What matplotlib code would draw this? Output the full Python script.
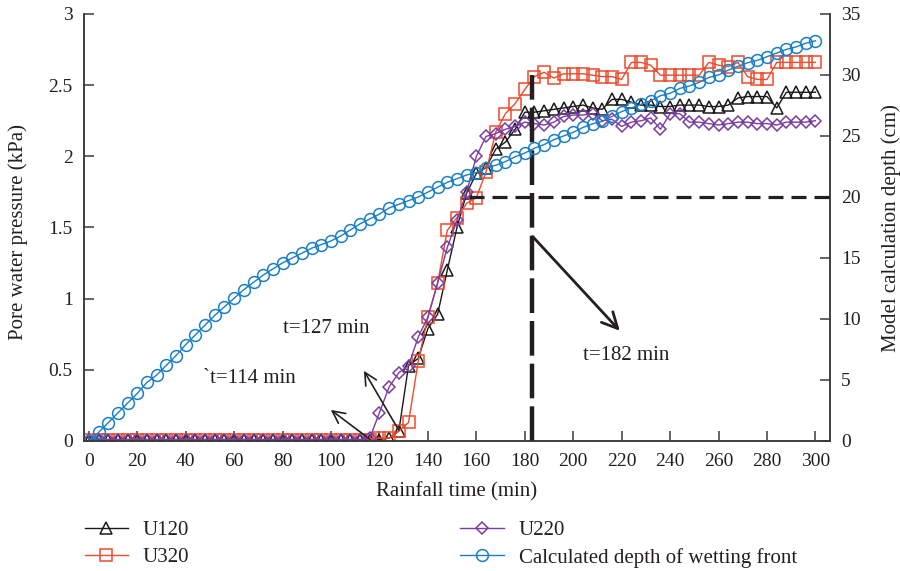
import numpy as np
import matplotlib
matplotlib.use("Agg")
import matplotlib.pyplot as plt

plt.rcParams["font.family"] = ["Liberation Serif", "DejaVu Serif"]

TEXT = "#231f20"
SPINE = "#3a3a3a"

# rainfall time, one reading every 4 min
tiempo = np.arange(0, 301, 4)

u120 = [0.01] * 30 + [
    0.01, 0.02, 0.07, 0.53, 0.58, 0.79, 0.89, 1.20, 1.50, 1.74, 1.88, 1.92, 2.05, 2.10, 2.19, 2.31,
    2.31, 2.32, 2.33, 2.34, 2.35, 2.36, 2.34, 2.33, 2.40, 2.40,
    2.38, 2.36, 2.36, 2.35, 2.35, 2.36, 2.36, 2.36, 2.35, 2.35,
    2.36, 2.41, 2.42, 2.42, 2.42, 2.34, 2.45, 2.45, 2.45, 2.45,
]
u320 = [0.01] * 30 + [
    0.02, 0.02, 0.07, 0.13, 0.56, 0.87, 1.11, 1.48, 1.57, 1.67, 1.71, 1.89, 2.17, 2.30, 2.37, 2.47,
    2.56, 2.59, 2.55, 2.58, 2.58, 2.58, 2.57, 2.56, 2.56, 2.54,
    2.66, 2.66, 2.64, 2.57, 2.57, 2.57, 2.57, 2.57, 2.66, 2.64,
    2.63, 2.66, 2.56, 2.54, 2.54, 2.66, 2.66, 2.66, 2.66, 2.66,
]
u220 = [0.01] * 29 + [0.02] + [
    0.20, 0.38, 0.48, 0.53, 0.73, 0.87, 1.11, 1.36, 1.55, 1.75, 2.00, 2.14, 2.16, 2.19, 2.21, 2.24,
    2.23, 2.22, 2.24, 2.28, 2.29, 2.29, 2.30, 2.25, 2.26, 2.21,
    2.24, 2.25, 2.27, 2.19, 2.30, 2.30, 2.24, 2.24, 2.23, 2.22,
    2.23, 2.24, 2.24, 2.23, 2.23, 2.22, 2.24, 2.24, 2.24, 2.25,
]
# calculated depth of the wetting front (cm)
frente = [
    0.0, 0.7, 1.5, 2.3, 3.1, 3.9, 4.8, 5.4, 6.2, 7.0, 7.9, 8.7, 9.5, 10.3, 11.0, 11.7, 12.4,
    13.0, 13.6, 14.1, 14.6, 15.0, 15.4, 15.8, 16.1, 16.4,
    16.8, 17.3, 17.8, 18.2, 18.6, 19.1, 19.4, 19.7, 20.0, 20.4,
    20.8, 21.2, 21.5, 21.8, 22.0, 22.4, 22.6, 22.9, 23.3, 23.6,
    24.0, 24.3, 24.7, 25.0, 25.3, 25.7, 26.0, 26.2, 26.6, 27.0,
    27.3, 27.6, 27.9, 28.3, 28.5, 28.9, 29.1, 29.4, 29.8, 30.0,
    30.4, 30.7, 31.0, 31.2, 31.5, 31.8, 32.1, 32.3, 32.6, 32.8,
]

fig = plt.figure(figsize=(9, 5.71), dpi=100)
ax = fig.add_axes([0.0933, 0.2277, 0.8289, 0.7478])
ax2 = ax.twinx()

estilo = dict(lw=1.0, markerfacecolor="none", markeredgewidth=1.1)
ax.plot(tiempo, u120, color="#1a1a1a", marker="^", ms=9, label="U120", **estilo)
ax.plot(tiempo, u320, color="#ef4a2c", marker="s", ms=8.5, label="U320", **estilo)
ax.plot(tiempo, u220, color="#7a3da2", marker="D", ms=6.5, label="U220", **estilo)
ax2.plot(tiempo, frente, color="#1b7fc6", marker="o", ms=8.5,
         label="Calculated depth of wetting front", **estilo)

# reference lines at t = 182 min and 20 cm depth
ax.plot([183, 183], [0, 2.57], color=TEXT, lw=3.2, dashes=(7.8, 1.8), zorder=5)
ax2.plot([157, 306], [20, 20], color=TEXT, lw=2.3, dashes=(4.7, 2.5), zorder=5)

ax.set_xlim(-2, 306)
ax.set_ylim(0, 3)
ax2.set_ylim(0, 35)
ax.set_xticks(np.arange(0, 301, 20))
ax.set_yticks(np.arange(0, 3.01, 0.5))
ax.set_yticklabels(["0", "0.5", "1", "1.5", "2", "2.5", "3"])
ax2.set_yticks(np.arange(0, 36, 5))

for a in (ax, ax2):
    a.spines["top"].set_visible(False)
    for s in a.spines.values():
        s.set_color(SPINE)
        s.set_linewidth(1.1)
    a.tick_params(direction="in", length=7.5, width=1.1, color=SPINE,
                  labelsize=14, labelcolor=TEXT, pad=8)
ax.tick_params(axis="x", pad=9)

ax.set_xlabel("Rainfall time (min)", fontsize=15, color=TEXT, labelpad=8)
fig.text(18 / 900, 1 - 232 / 571, "Pore water pressure (kPa)", rotation=90,
         ha="center", va="center", fontsize=15, color=TEXT)
fig.text(891 / 900, 1 - 228 / 571, "Model calculation depth (cm)", rotation=90,
         ha="center", va="center", fontsize=15, color=TEXT)

# annotations for the onset times
flecha = dict(arrowstyle="->", color=TEXT, lw=1.2, mutation_scale=22)
ax.annotate("", xy=(99, 0.23), xytext=(117, 0.0), arrowprops=flecha)
ax.annotate("", xy=(113, 0.51), xytext=(128.5, 0.06), arrowprops=flecha)
ax.annotate("", xy=(220, 0.76), xytext=(182.5, 1.45),
            arrowprops=dict(arrowstyle="->", color=TEXT, lw=2.0, mutation_scale=28))
ax.text(47, 0.44, "`t=114 min", fontsize=15, color=TEXT, va="center")
ax.text(80, 0.79, "t=127 min", fontsize=15, color=TEXT, va="center")
ax.text(204, 0.60, "t=182 min", fontsize=15, color=TEXT, va="center")

h1, l1 = ax.get_legend_handles_labels()
h2, l2 = ax2.get_legend_handles_labels()
fig.legend(h1 + h2, l1 + l2, ncol=2, loc="upper left", bbox_to_anchor=(0.094, 0.088),
           frameon=False, fontsize=15, handlelength=2.1, handletextpad=0.7,
           columnspacing=13.0, labelspacing=0.35, borderpad=0, borderaxespad=0,
           labelcolor=TEXT)

fig.savefig("out.png", dpi=100)
